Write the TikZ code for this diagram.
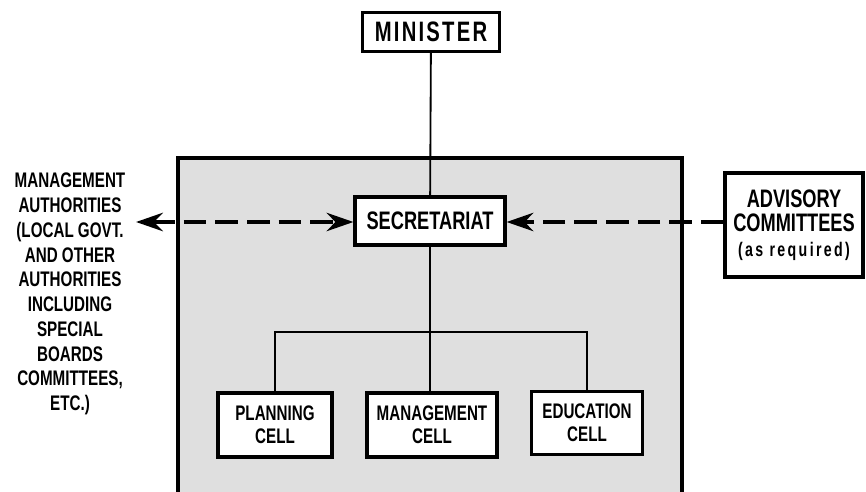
\documentclass[tikz,border=0pt]{standalone}
\usepackage{fontspec}
\setmainfont{Liberation Sans}
\newfontfamily\condfont[FakeStretch=0.72]{Liberation Sans}
\usetikzlibrary{arrows.meta,positioning}

\begin{document}
\begin{tikzpicture}[
  x=0.025cm, y=-0.025cm,
  box/.style={rectangle, draw, line width=2.2pt, fill=white, inner sep=0pt, align=center, font=\condfont\bfseries},
  link/.style={line width=1.3pt},
  dasharrow/.style={line width=3pt, dash pattern=on 16pt off 6.5pt, -{Stealth[length=19pt,width=13pt]}}
]
\useasboundingbox (0,0) rectangle (866,492);

% Shaded office
\fill[gray!25] (178,158) rectangle (682,492);
\draw[line width=2.4pt] (178,492) -- (178,158) -- (682,158) -- (682,492);

% Nodes
\node[box, minimum width=3.42cm, minimum height=0.98cm, font=\condfont\bfseries\fontsize{20}{22}\selectfont\addfontfeature{LetterSpace=8}] (minister) at (431,32) {MINISTER};
\node[box, minimum width=3.75cm, minimum height=1.2cm, font=\condfont\bfseries\fontsize{18}{20}\selectfont] (secr) at (430,221) {SECRETARIAT};
\node[box, minimum width=2.85cm, minimum height=1.6cm, font=\condfont\bfseries\fontsize{15}{16.5}\selectfont] (plan) at (275,425) {PLANNING\\CELL};
\node[box, minimum width=3.25cm, minimum height=1.6cm, font=\condfont\bfseries\fontsize{15}{16.5}\selectfont] (mgmt) at (432,425) {MANAGEMENT\\CELL};
\node[box, minimum width=2.78cm, minimum height=1.58cm, font=\condfont\bfseries\fontsize{15}{16.5}\selectfont] (educ) at (587,423) {EDUCATION\\CELL};
\node[box, minimum width=3.45cm, minimum height=2.6cm, font=\condfont\bfseries\fontsize{18}{17.5}\selectfont] (advis) at (794,225) {ADVISORY\\COMMITTEES\\{\fontsize{14}{17.5}\selectfont\addfontfeature{LetterSpace=12}(as required)}};
\node[align=center, inner sep=0pt, font=\condfont\bfseries\fontsize{15}{17.6}\selectfont] (authority) at (70,294) {MANAGEMENT\\AUTHORITIES\\(LOCAL GOVT.\\AND OTHER\\AUTHORITIES\\INCLUDING\\SPECIAL\\BOARDS\\COMMITTEES,\\ETC.)};
\coordinate (authtip) at (136,222);
\coordinate (bar) at (430,332);

% Connectors
\draw[link] (minister) -- (secr);
\draw[link, line width=1.6pt] (secr) -- (bar) -- (mgmt.north -| bar);
\draw[link, line width=1.6pt] (plan.north) |- (bar) -| (educ.north);

% Arrows
\draw[dasharrow, {Stealth[length=19pt,width=13pt]}-{Stealth[length=19pt,width=13pt]}] (authtip) -- (secr.west |- authtip);
\draw[dasharrow] (advis.west |- authtip) -- (secr.east |- authtip);

\end{tikzpicture}
\end{document}
